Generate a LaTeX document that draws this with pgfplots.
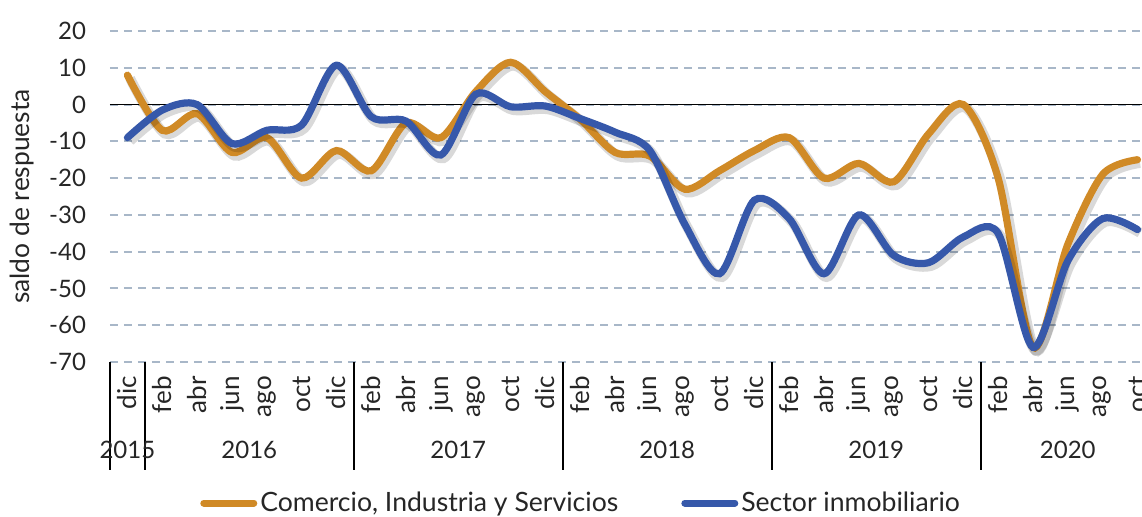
\documentclass[border=0pt]{standalone}
\usepackage{fontspec}
\setmainfont{Lato}
\usepackage{pgfplots}
\usepackage{pgfplotstable}
\pgfplotsset{compat=1.18}
\definecolor{com}{HTML}{D08A26}
\definecolor{inm}{HTML}{3658AA}
\definecolor{gridc}{HTML}{A8B7C8}
\definecolor{txt}{HTML}{262626}
\pgfplotstableread{
x com inm
0 8 -9
1 -7 -1.5
2 -2.5 0
3 -13 -10.6
4 -9 -7
5 -20 -5.6
6 -12.5 10.7
7 -18 -3.3
8 -5 -4.5
9 -9 -13.7
10 3.5 2.8
11 11.5 -0.6
12 3.5 -0.4
13 -4 -3.8
14 -13 -7.5
15 -14 -12.5
16 -23 -32.5
17 -18 -46
18 -12.5 -26
19 -9 -31
20 -20 -46
21 -16 -30
22 -21 -41
23 -8 -43
24 0 -36
25 -20 -35
26 -66 -66
27 -38 -42.5
28 -19 -31
29 -15 -34
}\data
\begin{document}
\begin{tikzpicture}[font=\fontsize{12}{14}\selectfont, text=txt]
\begin{axis}[
  scale only axis, width=516pt, height=165.5pt,
  xmin=-0.5, xmax=29.13, ymin=-70, ymax=20,
  clip=false,
  axis line style={draw=none}, tick style={draw=none},
  ytick={-70,-60,...,20},
  yticklabels={-70,-60,-50,-40,-30,-20,-10,0,10,20},
  ymajorgrids, grid style={gridc, line width=1pt, dash pattern=on 4pt off 3pt},
  extra y ticks={0}, extra y tick labels={},
  extra y tick style={grid style={black, solid, line width=0.9pt}},
  xtick={0,...,29},
  xticklabels={dic,feb,abr,jun,ago,oct,dic,feb,abr,jun,ago,oct,dic,feb,abr,jun,ago,oct,dic,feb,abr,jun,ago,oct,dic,feb,abr,jun,ago,oct},
  xticklabel style={rotate=90, anchor=east, font=\fontsize{13}{15}\selectfont},
  xticklabel shift=3.5pt, yticklabel shift=8.5pt,
  ylabel={saldo de respuesta},
  ylabel style={at={(axis description cs:-0.0853,0.5)}, anchor=center, font=\fontsize{13.2}{15}\selectfont},
  legend columns=2,
  legend style={at={(0.457,-0.426)}, anchor=center, draw=none, fill=none,
    font=\fontsize{13.3}{15}\selectfont,
    /tikz/every even column/.append style={column sep=30pt},
    nodes={inner sep=1.5pt}},
  legend image code/.code={\draw[#1, line width=3.5pt, line cap=round] (1.75pt,0pt) -- (26.75pt,0pt);},
]
\addplot[forget plot, black, opacity=0.15, line width=5pt, smooth, xshift=1.3pt, yshift=-1.6pt] table[x=x, y=com] {\data};
\addplot[com, line width=3.6pt, smooth, line cap=round] table[x=x, y=com] {\data};
\addlegendentry{Comercio, Industria y Servicios}
\addplot[forget plot, black, opacity=0.15, line width=5pt, smooth, xshift=1.3pt, yshift=-1.6pt] table[x=x, y=inm] {\data};
\addplot[inm, line width=3.6pt, smooth, line cap=round] table[x=x, y=inm] {\data};
\addlegendentry{Sector inmobiliario}
\pgfplotsinvokeforeach{-0.5,0.5,6.5,12.5,18.5,24.5}{
  \draw[black, line width=1pt] (axis cs:#1,-70) -- ++(0pt,-54pt);
}
\node[yshift=-44pt] at (axis cs:0,-70) {2015};
\node[yshift=-44pt] at (axis cs:3.5,-70) {2016};
\node[yshift=-44pt] at (axis cs:9.5,-70) {2017};
\node[yshift=-44pt] at (axis cs:15.5,-70) {2018};
\node[yshift=-44pt] at (axis cs:21.5,-70) {2019};
\node[yshift=-44pt] at (axis cs:27,-70) {2020};
\coordinate (SW) at (rel axis cs:0,0);
\end{axis}
\pgfresetboundingbox
\path[use as bounding box] ([shift={(-55pt,-77pt)}]SW) rectangle ([shift={(516pt,181pt)}]SW);
\end{tikzpicture}
\end{document}
